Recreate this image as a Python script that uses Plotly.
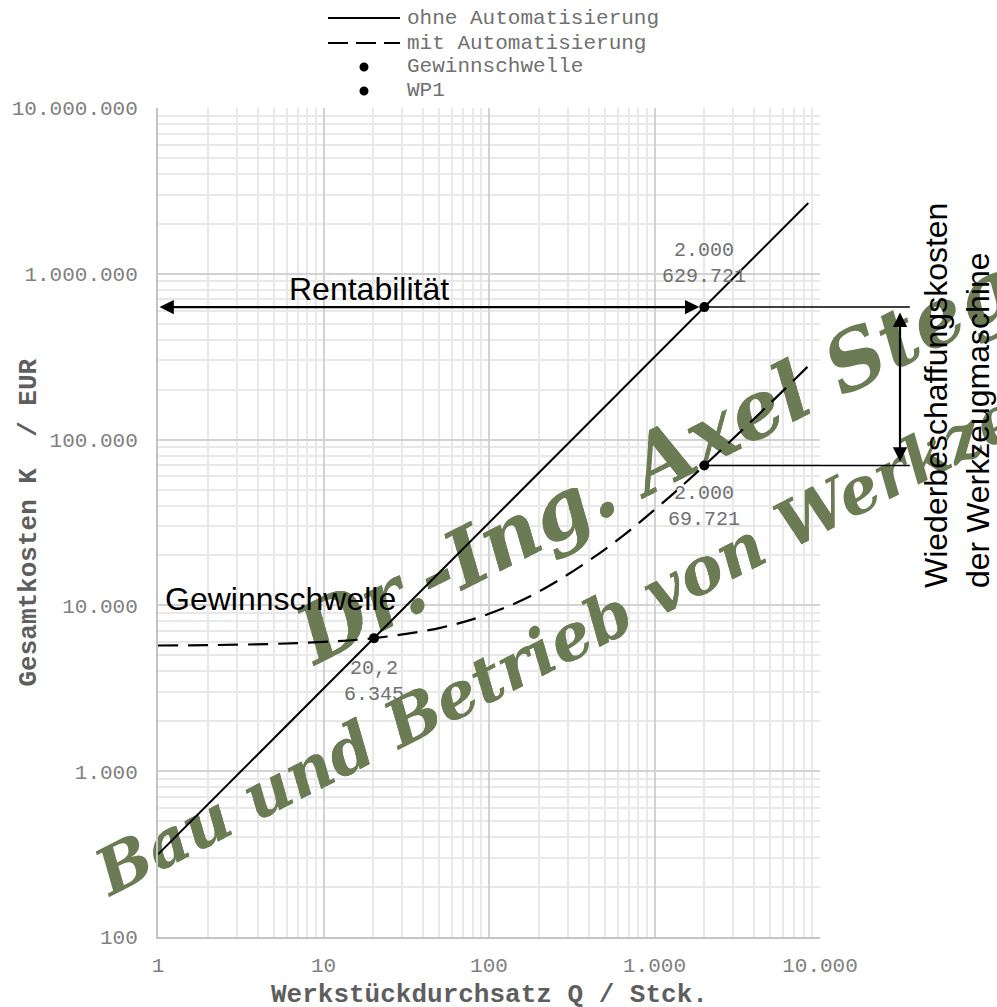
import numpy as np
import plotly.graph_objects as go

# Stückzahl Q und Gesamtkosten K
q_ohne = [1, 20.2, 2000, 8500]
k_ohne = [315, 6345, 629721, 2676000]

q_mit = [1, 2, 5, 10, 20.2, 50, 100, 200, 500, 1000, 2000, 5000, 8500]
k_mit = [5730, 5760, 5860, 6020, 6345, 7300, 8900, 12100, 21700, 37700, 69721, 165700, 277700]

gewinnschwelle_q = [20.2]
gewinnschwelle_k = [6345]
wp1_q = [2000, 2000]
wp1_k = [629721, 69721]

x_tickvals = [1, 10, 100, 1000, 10000]
x_ticktext = ["1", "10", "100", "1.000", "10.000"]
y_tickvals = [100, 1000, 10000, 100000, 1000000, 10000000]
y_ticktext = ["100", "1.000", "10.000", "100.000", "1.000.000", "10.000.000"]

legend_names = ["ohne Automatisierung", "mit Automatisierung", "Gewinnschwelle", "WP1"]

mono = "Liberation Mono, Courier New, monospace"
sans = "Liberation Sans, Arial, sans-serif"
grey = "#808080"
olive = "#6b7c55"
dash_style = "20px,10px"

W, H = 997, 1007
L, R, T, B = 158, 177, 108, 70
PW, PH = W - L - R, H - T - B
X_RANGE = [0, 4]
Y_RANGE = [2, 7]


def px_x(p):
    """Pixel column -> paper x."""
    return (p - L) / PW


def px_y(p):
    """Pixel row -> paper y."""
    return (H - B - p) / PH


def paper_to_q(fx):
    return 10 ** (X_RANGE[0] + fx * (X_RANGE[1] - X_RANGE[0]))


def paper_to_k(fy):
    return 10 ** (Y_RANGE[0] + fy * (Y_RANGE[1] - Y_RANGE[0]))


fig = go.Figure()
fig.add_trace(go.Scatter(x=q_ohne, y=k_ohne, mode="lines", name=legend_names[0],
                         line=dict(color="black", width=2), showlegend=False))
fig.add_trace(go.Scatter(x=q_mit, y=k_mit, mode="lines", name=legend_names[1],
                         line=dict(color="black", width=2.2, dash=dash_style), line_shape="spline",
                         showlegend=False))
fig.add_trace(go.Scatter(x=gewinnschwelle_q, y=gewinnschwelle_k, mode="markers", name=legend_names[2],
                         marker=dict(color="black", size=10), showlegend=False))
fig.add_trace(go.Scatter(x=wp1_q, y=wp1_k, mode="markers", name=legend_names[3],
                         marker=dict(color="black", size=10), showlegend=False))

minor_vals = [k * 10 ** n for n in range(0, 7) for k in range(2, 10)]

fig.update_xaxes(type="log", range=X_RANGE, tickvals=x_tickvals, ticktext=x_ticktext,
                 tickfont=dict(family=mono, size=21, color=grey), ticklabelstandoff=8,
                 showgrid=True, gridcolor="#d2d2d2", gridwidth=2,
                 minor=dict(tickvals=minor_vals, showgrid=True, gridcolor="#e8e8e8", gridwidth=1.5),
                 showline=True, linecolor="#c4c4c4", linewidth=2, automargin=False)
fig.update_yaxes(type="log", range=Y_RANGE, tickvals=y_tickvals, ticktext=y_ticktext,
                 tickfont=dict(family=mono, size=21, color=grey), ticklabelstandoff=14,
                 showgrid=True, gridcolor="#d2d2d2", gridwidth=2,
                 minor=dict(tickvals=minor_vals, showgrid=True, gridcolor="#e8e8e8", gridwidth=1.5),
                 showline=True, linecolor="#c4c4c4", linewidth=2, automargin=False)

ann = []
shapes = []
lx, lk = np.log10(wp1_q[0]), np.log10(wp1_k[0])
lk2 = np.log10(wp1_k[1])
gx, gk = np.log10(gewinnschwelle_q[0]), np.log10(gewinnschwelle_k[0])

# Achsentitel
title_font = dict(family=mono, size=26, color="#5e5e5e", weight="bold")
ann.append(dict(x=0.5, y=px_y(995), xref="paper", yref="paper", xanchor="center", yanchor="middle",
                text="Werkstückdurchsatz Q / Stck.", showarrow=False, font=title_font))
ann.append(dict(x=px_x(28), y=0.5, xref="paper", yref="paper", xanchor="center", yanchor="middle",
                text="Gesamtkosten K\u00a0\u00a0/ EUR", showarrow=False, textangle=-90, font=title_font))

# Wertebeschriftungen
val_font = dict(family=mono, size=20, color="#707070")
ann.append(dict(x=lx, y=lk, xref="x", yref="y", text="2.000<br>629.721", showarrow=False,
                xanchor="center", yanchor="middle", yshift=44, font=val_font))
ann.append(dict(x=lx, y=lk2, xref="x", yref="y", text="2.000<br>69.721", showarrow=False,
                xanchor="center", yanchor="middle", yshift=-41, font=val_font))
ann.append(dict(x=gx, y=gk, xref="x", yref="y", text="20,2<br>6.345", showarrow=False,
                xanchor="center", yanchor="middle", yshift=-43, font=val_font))

# Rentabilität: Doppelpfeil vom Achsenanfang bis WP1
ann.append(dict(x=lx, y=lk, xref="x", yref="y", ax=0, ay=lk, axref="x", ayref="y", text="",
                showarrow=True, arrowhead=2, startarrowhead=2, arrowside="end+start",
                arrowwidth=2.2, arrowsize=1.3, startarrowsize=1.3, standoff=5, arrowcolor="black"))
ann.append(dict(x=px_x(369), y=px_y(289), xref="paper", yref="paper", xanchor="center", yanchor="middle",
                text="Rentabilität", showarrow=False, font=dict(family=sans, size=32, color="black")))
ann.append(dict(x=px_x(280), y=px_y(599), xref="paper", yref="paper", xanchor="center", yanchor="middle",
                text="Gewinnschwelle", showarrow=False, font=dict(family=sans, size=32, color="black")))

# Hilfslinien nach rechts
for yk in (lk, lk2):
    ann.append(dict(x=lx, y=yk, xref="x", yref="y", ax=207, ay=0, text="", showarrow=True,
                    arrowhead=0, arrowwidth=1.5, arrowcolor="black"))

# Wiederbeschaffungskosten: senkrechter Doppelpfeil
ann.append(dict(x=px_x(900), y=lk2, xref="paper", yref="y", ax=0, ay=lk, axref="pixel", ayref="y",
                text="", showarrow=True, arrowhead=2, startarrowhead=2, arrowside="end+start",
                arrowwidth=2.2, arrowsize=1.3, startarrowsize=1.3, standoff=4, startstandoff=4,
                arrowcolor="black"))
ann.append(dict(x=px_x(957), y=px_y(396), xref="paper", yref="paper", xanchor="center", yanchor="middle",
                text="Wiederbeschaffungskosten<br>der Werkzeugmaschine", showarrow=False,
                textangle=-90, align="left", font=dict(family=sans, size=32, color="black")))

# Legende oberhalb des Diagramms
leg_font = dict(family=mono, size=21, color="#707070")
leg_rows = [18, 43, 67, 91]
leg_x0, leg_x1, leg_text = 328, 400, 405
for i, (name, row) in enumerate(zip(legend_names, leg_rows)):
    ann.append(dict(x=px_x(leg_text), y=px_y(row), xref="paper", yref="paper", xanchor="left",
                    yanchor="middle", text=name, showarrow=False, font=leg_font))
    if i < 2:
        shapes.append(dict(type="line", xref="paper", yref="paper",
                           x0=px_x(leg_x0), x1=px_x(leg_x1), y0=px_y(row), y1=px_y(row),
                           line=dict(color="black", width=2.2, dash="solid" if i == 0 else "20px,8px")))
    else:
        cx = (leg_x0 + leg_x1) / 2
        shapes.append(dict(type="circle", xref="paper", yref="paper",
                           x0=px_x(cx - 4.5), x1=px_x(cx + 4.5), y0=px_y(row + 4.5), y1=px_y(row - 4.5),
                           line=dict(width=0), fillcolor="black"))

# Schriftzug: eine Kopie unter dem Diagramm (Teile außerhalb der Achsen),
# eine Kopie zwischen Gitter und Kurven (Teile innerhalb der Achsen)
for txt, cx, cy, size in [("Dr.-Ing. Axel Steger", 695, 435, 80),
                          ("Bau und Betrieb von Werkzeugmaschinen", 769, 531, 64)]:
    fx0, fx1 = px_x(cx) - 0.01, px_x(cx) + 0.01
    fy0, fy1 = px_y(cy) - 0.01, px_y(cy) + 0.01
    label = dict(text=txt, textangle=-27, textposition="middle center",
                 font=dict(family="DejaVu Serif", size=size, color=olive, weight="bold", style="italic"))
    shapes.append(dict(type="rect", xref="paper", yref="paper", x0=fx0, x1=fx1, y0=fy0, y1=fy1,
                       line=dict(width=0), fillcolor="rgba(0,0,0,0)", layer="below", label=label))
    shapes.append(dict(type="rect", xref="x", yref="y",
                       x0=paper_to_q(fx0), x1=paper_to_q(fx1), y0=paper_to_k(fy0), y1=paper_to_k(fy1),
                       line=dict(width=0), fillcolor="rgba(0,0,0,0)", layer="between", label=label))

fig.update_layout(
    width=W, height=H,
    margin=dict(l=L, r=R, t=T, b=B, autoexpand=False),
    paper_bgcolor="white", plot_bgcolor="white",
    annotations=ann, shapes=shapes,
    showlegend=False,
)

fig.write_html("out.html")
